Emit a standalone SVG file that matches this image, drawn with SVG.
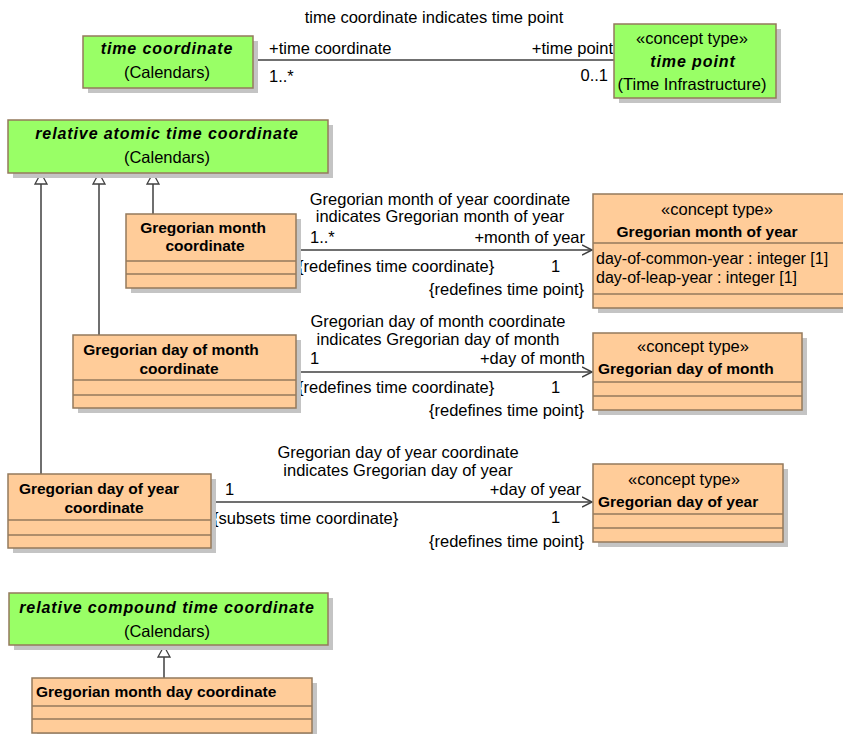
<svg xmlns="http://www.w3.org/2000/svg" width="843" height="734" viewBox="0 0 843 734">
<defs>
<style>
text{font-family:"Liberation Sans",Arial,sans-serif;font-size:16.5px;fill:#000}
.c{text-anchor:middle}
.e{text-anchor:end}
.b{font-weight:bold;font-size:15.5px}
.bi{font-weight:bold;font-style:italic;font-size:16px;letter-spacing:0.9px}
.at{font-size:16px}
.green{fill:#99FF66;stroke:#947A5C;stroke-width:1.5}
.orange{fill:#FFCC99;stroke:#947A5C;stroke-width:1.5}
.sh{fill:#C4C4C4}
.sep{stroke:#947A5C;stroke-width:1.5}
.ln{stroke:#404040;stroke-width:1.5;fill:none}
</style>
<marker id="open" markerWidth="12" markerHeight="12" refX="10" refY="6" orient="auto" markerUnits="userSpaceOnUse">
<path d="M0,1 L10,6 L0,11" fill="none" stroke="#404040" stroke-width="1.5"/>
</marker>
</defs>

<g id="connectors">
<line class="ln" x1="253" y1="60" x2="614" y2="60"/>
<line class="ln" x1="296" y1="250" x2="592" y2="250" marker-end="url(#open)"/>
<line class="ln" x1="296" y1="372" x2="592" y2="372" marker-end="url(#open)"/>
<line class="ln" x1="211" y1="502" x2="592" y2="502" marker-end="url(#open)"/>
<path d="M41,474 L41,184 M99,335 L99,184 M153,214 L153,184 M164,678 L164,657" class="ln"/>
<path d="M35,184 L41,173 L47,184 Z M93,184 L99,173 L105,184 Z M147,184 L153,173 L159,184 Z M158,657 L164,646 L170,657 Z" fill="#fff" stroke="#404040" stroke-width="1.3"/>
<text class="c" x="434" y="23">time coordinate indicates time point</text>
<text x="269" y="54">+time coordinate</text>
<text x="269" y="82">1..*</text>
<text class="e" x="613" y="54">+time point</text>
<text class="e" x="608" y="81">0..1</text>

<text class="c" x="440" y="205">Gregorian month of year coordinate</text>
<text class="c" x="440" y="222">indicates Gregorian month of year</text>
<text x="310" y="243">1..*</text>
<text class="e" x="585" y="243">+month of year</text>
<text x="298" y="272">{redefines time coordinate}</text>
<text x="551" y="272">1</text>
<text class="e" x="584" y="295">{redefines time point}</text>

<text class="c" x="438" y="327">Gregorian day of month coordinate</text>
<text class="c" x="438" y="345">indicates Gregorian day of month</text>
<text x="310" y="364">1</text>
<text class="e" x="585" y="364">+day of month</text>
<text x="298" y="393">{redefines time coordinate}</text>
<text x="551" y="393">1</text>
<text class="e" x="584" y="416">{redefines time point}</text>

<text class="c" x="398" y="458">Gregorian day of year coordinate</text>
<text class="c" x="398" y="476">indicates Gregorian day of year</text>
<text x="225" y="495">1</text>
<text class="e" x="581" y="495">+day of year</text>
<text x="213" y="524">{subsets time coordinate}</text>
<text x="551" y="523">1</text>
<text class="e" x="584" y="547">{redefines time point}</text>
</g>

<g id="time-coordinate">
<rect class="sh" x="88" y="41" width="170" height="52"/>
<rect class="green" x="83" y="36" width="170" height="52"/>
<text class="c bi" x="167" y="54">time coordinate</text>
<text class="c" x="167" y="78">(Calendars)</text>
</g>

<g id="time-point">
<rect class="sh" x="619" y="29" width="162" height="74"/>
<rect class="green" x="614" y="24" width="162" height="74"/>
<text class="c" x="692" y="44">«concept type»</text>
<text class="c bi" x="693" y="67">time point</text>
<text class="c" x="692" y="90">(Time Infrastructure)</text>
</g>

<g id="relative-atomic-time-coordinate">
<rect class="sh" x="13" y="125" width="320" height="53"/>
<rect class="green" x="8" y="120" width="320" height="53"/>
<text class="c bi" x="167" y="139">relative atomic time coordinate</text>
<text class="c" x="167" y="163">(Calendars)</text>
</g>

<g id="gregorian-month-coordinate">
<rect class="sh" x="131" y="219" width="170" height="74"/>
<rect class="orange" x="126" y="214" width="170" height="74"/>
<line class="sep" x1="126" y1="261" x2="296" y2="261"/>
<line class="sep" x1="126" y1="274" x2="296" y2="274"/>
<text class="c b" x="203" y="233">Gregorian month</text>
<text class="c b" x="205" y="251">coordinate</text>
</g>

<g id="gregorian-month-of-year">
<rect class="sh" x="598" y="199" width="260" height="114"/>
<rect class="orange" x="593" y="194" width="260" height="114"/>
<line class="sep" x1="593" y1="243" x2="853" y2="243"/>
<line class="sep" x1="593" y1="294" x2="853" y2="294"/>
<text class="c" x="717" y="215">«concept type»</text>
<text class="c b" x="707" y="237">Gregorian month of year</text>
<text class="at" x="596" y="264">day-of-common-year : integer [1]</text>
<text class="at" x="596" y="283">day-of-leap-year : integer [1]</text>
</g>

<g id="gregorian-day-of-month-coordinate">
<rect class="sh" x="78" y="340" width="223" height="73"/>
<rect class="orange" x="73" y="335" width="223" height="73"/>
<line class="sep" x1="73" y1="380" x2="296" y2="380"/>
<line class="sep" x1="73" y1="395" x2="296" y2="395"/>
<text class="c b" x="171" y="355">Gregorian day of month</text>
<text class="c b" x="179" y="374">coordinate</text>
</g>

<g id="gregorian-day-of-month">
<rect class="sh" x="598" y="338" width="209" height="77"/>
<rect class="orange" x="593" y="333" width="209" height="77"/>
<line class="sep" x1="593" y1="382" x2="802" y2="382"/>
<line class="sep" x1="593" y1="396" x2="802" y2="396"/>
<text class="c" x="693" y="352">«concept type»</text>
<text class="b" x="598" y="374">Gregorian day of month</text>
</g>

<g id="gregorian-day-of-year-coordinate">
<rect class="sh" x="13" y="479" width="203" height="74"/>
<rect class="orange" x="8" y="474" width="203" height="74"/>
<line class="sep" x1="8" y1="520" x2="211" y2="520"/>
<line class="sep" x1="8" y1="535" x2="211" y2="535"/>
<text class="c b" x="99" y="494">Gregorian day of year</text>
<text class="c b" x="104" y="513">coordinate</text>
</g>

<g id="gregorian-day-of-year">
<rect class="sh" x="598" y="469" width="190" height="78"/>
<rect class="orange" x="593" y="464" width="190" height="78"/>
<line class="sep" x1="593" y1="514" x2="783" y2="514"/>
<line class="sep" x1="593" y1="528" x2="783" y2="528"/>
<text class="c" x="684" y="485">«concept type»</text>
<text class="b" x="598" y="507">Gregorian day of year</text>
</g>

<g id="relative-compound-time-coordinate">
<rect class="sh" x="14" y="598" width="319" height="52"/>
<rect class="green" x="9" y="593" width="319" height="52"/>
<text class="c bi" x="167" y="613">relative compound time coordinate</text>
<text class="c" x="167" y="637">(Calendars)</text>
</g>

<g id="gregorian-month-day-coordinate">
<rect class="sh" x="37" y="683" width="280" height="55"/>
<rect class="orange" x="32" y="678" width="280" height="55"/>
<line class="sep" x1="32" y1="706" x2="312" y2="706"/>
<line class="sep" x1="32" y1="719" x2="312" y2="719"/>
<text class="b" x="36" y="697">Gregorian month day coordinate</text>
</g>
</svg>
